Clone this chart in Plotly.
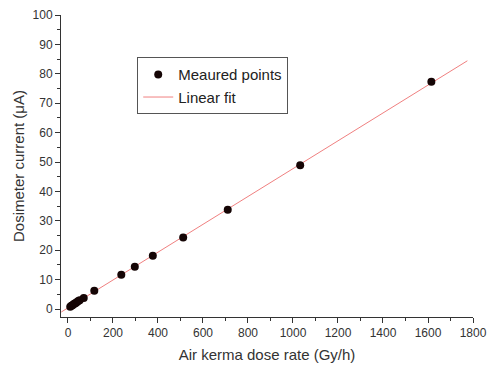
import numpy as np
import plotly.graph_objects as go

dose_rate = [10, 15, 20, 25, 30, 35, 40, 46, 52, 70, 117, 237, 297, 377, 512, 710, 1032, 1615]
current = [0.8, 1.1, 1.3, 1.6, 1.9, 2.1, 2.4, 2.7, 3.0, 3.8, 6.2, 11.7, 14.4, 18.1, 24.3, 33.8, 48.9, 77.3]
fit_range = [-30, 1775]

slope, intercept = np.polyfit(dose_rate, current, 1)
fit_y = [slope * v + intercept for v in fit_range]

fig = go.Figure()
fig.add_trace(go.Scatter(x=fit_range, y=fit_y, mode="lines", name="Linear fit",
                         line=dict(color="#f08080", width=1)))
fig.add_trace(go.Scatter(x=dose_rate, y=current, mode="markers", name="Meaured points",
                         marker=dict(color="#150505", size=8)))

axis_common = dict(showline=True, linecolor="#333", linewidth=1, ticks="outside",
                   ticklen=5, tickcolor="#333", showgrid=False, zeroline=False,
                   tickfont=dict(size=12, color="#333"), automargin=False)

fig.update_layout(
    width=487, height=367,
    margin=dict(l=61, r=14, t=15, b=50),
    paper_bgcolor="white", plot_bgcolor="white",
    font=dict(family="Liberation Sans, Arial", color="#333"),
    xaxis=dict(range=[-31, 1800], tick0=0, dtick=200,
               title=dict(text="Air kerma dose rate (Gy/h)", font=dict(size=15), standoff=10),
               minor=dict(ticks="outside", ticklen=3, tickcolor="#333", dtick=100),
               **axis_common),
    yaxis=dict(range=[-2.7, 100], tick0=0, dtick=10,
               title=dict(text="Dosimeter current (μA)", font=dict(size=15), standoff=4),
               minor=dict(ticks="outside", ticklen=3, tickcolor="#333", dtick=5),
               **axis_common),
    legend=dict(x=0.185, y=0.86, xanchor="left", yanchor="top",
                bordercolor="#555", borderwidth=1, bgcolor="white",
                font=dict(size=15, color="#222"), traceorder="reversed",
                itemwidth=30, tracegroupgap=0),
    showlegend=True,
)

fig.write_html("out.html", config={"displayModeBar": False},
               post_script="document.body.style.margin='0';document.body.style.overflow='hidden';")
